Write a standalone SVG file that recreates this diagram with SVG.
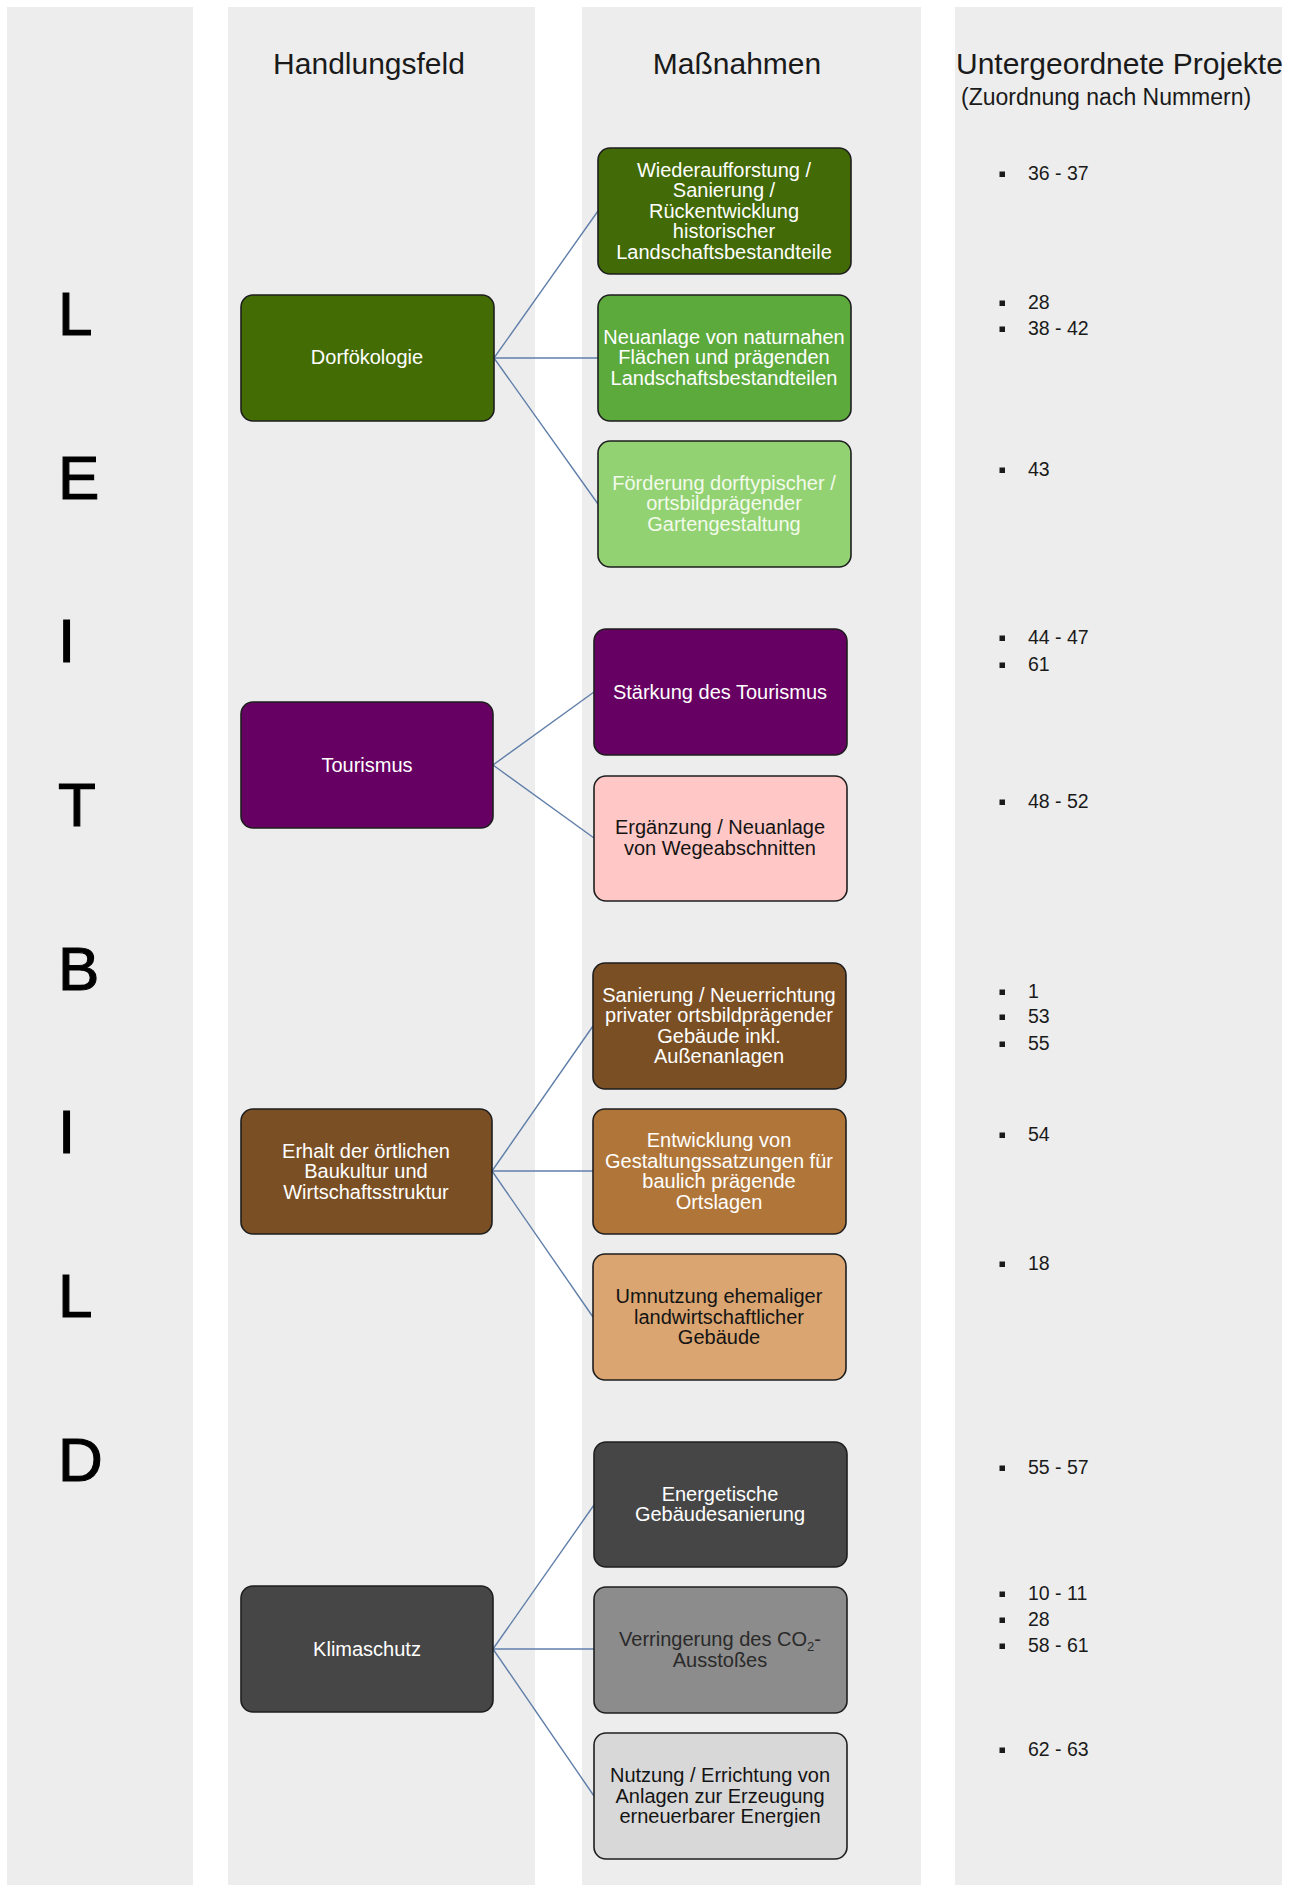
<svg xmlns="http://www.w3.org/2000/svg" width="1294" height="1885" viewBox="0 0 1294 1885">
  <style>
    .panel { fill: #ededed; }
    .head { font-family: "Liberation Sans", Arial, sans-serif; font-size: 30px; fill: #1a1a1a; }
    .sub { font-family: "Liberation Sans", Arial, sans-serif; font-size: 23px; fill: #1a1a1a; }
    .big { font-family: "Liberation Sans", Arial, sans-serif; font-size: 62px; fill: #000; stroke: #000; stroke-width: 1.1; }
    .box { stroke: #1e1e1e; stroke-width: 1.6; }
    .lbl { font-family: "Liberation Sans", Arial, sans-serif; font-size: 20px; text-anchor: middle; }
    .w { fill: #ffffff; }
    .k { fill: #141414; }
    .num { font-family: "Liberation Sans", Arial, sans-serif; font-size: 19.5px; fill: #1a1a1a; }
    .dot { fill: #1a1a1a; }
    .conn line { stroke: #5f7ea8; stroke-width: 1.4; }
  </style>

  <rect width="1294" height="1885" fill="#ffffff"/>

  <!-- column backgrounds -->
  <rect class="panel" x="7" y="7" width="186" height="1878"/>
  <rect class="panel" x="228" y="7" width="307" height="1878"/>
  <rect class="panel" x="582" y="7" width="339" height="1878"/>
  <rect class="panel" x="955" y="7" width="327" height="1878"/>

  <!-- column headings -->
  <text class="head" x="369" y="74" text-anchor="middle">Handlungsfeld</text>
  <text class="head" x="737" y="74" text-anchor="middle">Maßnahmen</text>
  <text class="head" x="956" y="74">Untergeordnete Projekte</text>
  <text class="sub" x="961" y="105">(Zuordnung nach Nummern)</text>

  <!-- vertical LEITBILD lettering -->
  <g id="leitbild">
    <text class="big" x="58" y="335">L</text>
    <text class="big" x="58" y="499">E</text>
    <text class="big" x="58" y="662">I</text>
    <text class="big" x="58" y="826">T</text>
    <text class="big" x="58" y="990">B</text>
    <text class="big" x="58" y="1153">I</text>
    <text class="big" x="58" y="1317">L</text>
    <text class="big" x="58" y="1481">D</text>
  </g>

  <!-- connectors -->
  <g id="connectors" class="conn">
    <line x1="494" y1="358" x2="598" y2="211"/>
    <line x1="494" y1="358" x2="598" y2="358"/>
    <line x1="494" y1="358" x2="598" y2="504"/>
    <line x1="493" y1="765" x2="594" y2="692"/>
    <line x1="493" y1="765" x2="594" y2="838"/>
    <line x1="492" y1="1171" x2="593" y2="1026"/>
    <line x1="492" y1="1171" x2="593" y2="1171"/>
    <line x1="492" y1="1171" x2="593" y2="1317"/>
    <line x1="493" y1="1649" x2="594" y2="1505"/>
    <line x1="493" y1="1649" x2="594" y2="1649"/>
    <line x1="493" y1="1649" x2="594" y2="1796"/>
  </g>

  <!-- Handlungsfelder -->
  <g id="dorfoekologie">
    <rect class="box" x="241" y="295" width="253" height="126" rx="12" fill="#446c05"/>
    <text class="lbl w" x="367" y="364">Dorfökologie</text>
  </g>
  <g id="tourismus">
    <rect class="box" x="241" y="702" width="252" height="126" rx="12" fill="#660062"/>
    <text class="lbl w" x="367" y="772">Tourismus</text>
  </g>
  <g id="baukultur">
    <rect class="box" x="241" y="1109" width="251" height="125" rx="12" fill="#7b4f24"/>
    <text class="lbl w" x="366" y="1158">Erhalt der örtlichen</text>
    <text class="lbl w" x="366" y="1178">Baukultur und</text>
    <text class="lbl w" x="366" y="1199">Wirtschaftsstruktur</text>
  </g>
  <g id="klimaschutz">
    <rect class="box" x="241" y="1586" width="252" height="126" rx="12" fill="#464646"/>
    <text class="lbl w" x="367" y="1656">Klimaschutz</text>
  </g>

  <!-- Maßnahmen -->
  <g id="wiederaufforstung">
    <rect class="box" x="598" y="148" width="253" height="126" rx="12" fill="#426a07"/>
    <text class="lbl w" x="724" y="177">Wiederaufforstung /</text>
    <text class="lbl w" x="724" y="197">Sanierung /</text>
    <text class="lbl w" x="724" y="218">Rückentwicklung</text>
    <text class="lbl w" x="724" y="238">historischer</text>
    <text class="lbl w" x="724" y="259">Landschaftsbestandteile</text>
  </g>
  <g id="neuanlage">
    <rect class="box" x="598" y="295" width="253" height="126" rx="12" fill="#5ca93c"/>
    <text class="lbl w" x="724" y="344">Neuanlage von naturnahen</text>
    <text class="lbl w" x="724" y="364">Flächen und prägenden</text>
    <text class="lbl w" x="724" y="385">Landschaftsbestandteilen</text>
  </g>
  <g id="gartengestaltung">
    <rect class="box" x="598" y="441" width="253" height="126" rx="12" fill="#93d272"/>
    <text class="lbl" fill="#f2faec" x="724" y="490">Förderung dorftypischer /</text>
    <text class="lbl" fill="#f2faec" x="724" y="510">ortsbildprägender</text>
    <text class="lbl" fill="#f2faec" x="724" y="531">Gartengestaltung</text>
  </g>
  <g id="staerkung-tourismus">
    <rect class="box" x="594" y="629" width="253" height="126" rx="12" fill="#660062"/>
    <text class="lbl w" x="720" y="699">Stärkung des Tourismus</text>
  </g>
  <g id="wegeabschnitte">
    <rect class="box" x="594" y="776" width="253" height="125" rx="12" fill="#ffc8c6"/>
    <text class="lbl k" x="720" y="834">Ergänzung / Neuanlage</text>
    <text class="lbl k" x="720" y="855">von Wegeabschnitten</text>
  </g>
  <g id="sanierung">
    <rect class="box" x="593" y="963" width="253" height="126" rx="12" fill="#7b4f24"/>
    <text class="lbl w" x="719" y="1002">Sanierung / Neuerrichtung</text>
    <text class="lbl w" x="719" y="1022">privater ortsbildprägender</text>
    <text class="lbl w" x="719" y="1043">Gebäude inkl.</text>
    <text class="lbl w" x="719" y="1063">Außenanlagen</text>
  </g>
  <g id="gestaltungssatzungen">
    <rect class="box" x="593" y="1109" width="253" height="125" rx="12" fill="#b07639"/>
    <text class="lbl w" x="719" y="1147">Entwicklung von</text>
    <text class="lbl w" x="719" y="1168">Gestaltungssatzungen für</text>
    <text class="lbl w" x="719" y="1188">baulich prägende</text>
    <text class="lbl w" x="719" y="1209">Ortslagen</text>
  </g>
  <g id="umnutzung">
    <rect class="box" x="593" y="1254" width="253" height="126" rx="12" fill="#daa571"/>
    <text class="lbl k" x="719" y="1303">Umnutzung ehemaliger</text>
    <text class="lbl k" x="719" y="1324">landwirtschaftlicher</text>
    <text class="lbl k" x="719" y="1344">Gebäude</text>
  </g>
  <g id="gebaeudesanierung">
    <rect class="box" x="594" y="1442" width="253" height="125" rx="12" fill="#464646"/>
    <text class="lbl w" x="720" y="1501">Energetische</text>
    <text class="lbl w" x="720" y="1521">Gebäudesanierung</text>
  </g>
  <g id="co2">
    <rect class="box" x="594" y="1587" width="253" height="126" rx="12" fill="#8c8c8c"/>
    <text class="lbl" fill="#2a2a2a" x="720" y="1646">Verringerung des CO<tspan font-size="13" dy="5">2</tspan><tspan dy="-5">-</tspan></text>
    <text class="lbl" fill="#2a2a2a" x="720" y="1667">Ausstoßes</text>
  </g>
  <g id="erneuerbare">
    <rect class="box" x="594" y="1733" width="253" height="126" rx="12" fill="#d8d8d8"/>
    <text class="lbl k" x="720" y="1782">Nutzung / Errichtung von</text>
    <text class="lbl k" x="720" y="1803">Anlagen zur Erzeugung</text>
    <text class="lbl k" x="720" y="1823">erneuerbarer Energien</text>
  </g>

  <!-- project numbers -->
  <g id="projekte">
    <rect class="dot" x="999.5" y="171.5" width="5.5" height="5.5"/><text class="num" x="1028" y="180">36 - 37</text>
    <rect class="dot" x="999.5" y="300.5" width="5.5" height="5.5"/><text class="num" x="1028" y="309">28</text>
    <rect class="dot" x="999.5" y="326.5" width="5.5" height="5.5"/><text class="num" x="1028" y="335">38 - 42</text>
    <rect class="dot" x="999.5" y="467.5" width="5.5" height="5.5"/><text class="num" x="1028" y="476">43</text>
    <rect class="dot" x="999.5" y="635.5" width="5.5" height="5.5"/><text class="num" x="1028" y="644">44 - 47</text>
    <rect class="dot" x="999.5" y="662.5" width="5.5" height="5.5"/><text class="num" x="1028" y="671">61</text>
    <rect class="dot" x="999.5" y="799.5" width="5.5" height="5.5"/><text class="num" x="1028" y="808">48 - 52</text>
    <rect class="dot" x="999.5" y="989.5" width="5.5" height="5.5"/><text class="num" x="1028" y="998">1</text>
    <rect class="dot" x="999.5" y="1014.5" width="5.5" height="5.5"/><text class="num" x="1028" y="1023">53</text>
    <rect class="dot" x="999.5" y="1041.5" width="5.5" height="5.5"/><text class="num" x="1028" y="1050">55</text>
    <rect class="dot" x="999.5" y="1132.5" width="5.5" height="5.5"/><text class="num" x="1028" y="1141">54</text>
    <rect class="dot" x="999.5" y="1261.5" width="5.5" height="5.5"/><text class="num" x="1028" y="1270">18</text>
    <rect class="dot" x="999.5" y="1465.5" width="5.5" height="5.5"/><text class="num" x="1028" y="1474">55 - 57</text>
    <rect class="dot" x="999.5" y="1591.5" width="5.5" height="5.5"/><text class="num" x="1028" y="1600">10 - 11</text>
    <rect class="dot" x="999.5" y="1617.5" width="5.5" height="5.5"/><text class="num" x="1028" y="1626">28</text>
    <rect class="dot" x="999.5" y="1643.5" width="5.5" height="5.5"/><text class="num" x="1028" y="1652">58 - 61</text>
    <rect class="dot" x="999.5" y="1747.5" width="5.5" height="5.5"/><text class="num" x="1028" y="1756">62 - 63</text>
  </g>
</svg>
